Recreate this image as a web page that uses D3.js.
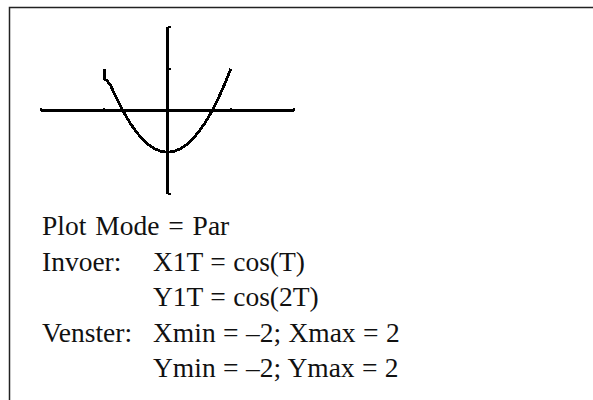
<!DOCTYPE html>
<html>
<head>
<meta charset="utf-8">
<script src="https://cdn.jsdelivr.net/npm/d3@7"></script>
<style>
  body { margin: 0; background: #fff; }
  text { font-family: "Liberation Serif", "Times New Roman", serif; }
</style>
</head>
<body>
<svg id="chart"></svg>
<script>
// window settings of the calculator
const xDomain = [-2, 2];
const yDomain = [-2, 2];
const xTicks = [-2, -1, 0, 1, 2];
const yTicks = [-2, -1, 0, 1, 2];

// points of the curve (x = cos T, y = cos 2T)
const curveX = [-1, -1, -0.96, -0.9, -0.8, -0.7, -0.6, -0.5, -0.4, -0.3, -0.2, -0.1, 0,
                0.1, 0.2, 0.3, 0.4, 0.5, 0.6, 0.7, 0.8, 0.9, 0.96, 1];
const curveY = [1, 0.76, 0.72, 0.6, 0.28, -0.02, -0.28, -0.5, -0.68, -0.82, -0.92, -0.98, -1,
                -0.98, -0.92, -0.82, -0.68, -0.5, -0.28, -0.02, 0.28, 0.62, 0.84, 1];

// text below the screen
const rowLabels = ["Plot Mode = Par", "Invoer:", "", "Venster:", ""];
const rowValues = ["", "X1T = cos(T)", "Y1T = cos(2T)",
                   "Xmin = \u20132; Xmax = 2", "Ymin = \u20132; Ymax = 2"];

const width = 593, height = 400;

const svg = d3.select("#chart")
    .attr("width", width)
    .attr("height", height);

// frame (open at right and bottom)
svg.append("path")
    .attr("d", `M9.5,${height} V7.5 H${width}`)
    .attr("fill", "none")
    .attr("stroke", "#222")
    .attr("stroke-width", 1.5);

const x = d3.scaleLinear().domain(xDomain).range([41, 294]);
const y = d3.scaleLinear().domain(yDomain).range([194, 27]);

const axes = svg.append("g")
    .attr("stroke", "#000")
    .attr("shape-rendering", "crispEdges");

// x axis
axes.append("line")
    .attr("x1", x(xDomain[0])).attr("x2", x(xDomain[1]))
    .attr("y1", y(0)).attr("y2", y(0))
    .attr("stroke-width", 2.5);
axes.selectAll(".xt")
    .data(xTicks.filter(d => d !== 0))
    .join("rect")
    .attr("class", "xt")
    .attr("x", d => x(d) - 1)
    .attr("y", y(0) - 3)
    .attr("width", 2)
    .attr("height", 3)
    .attr("stroke", "none")
    .attr("fill", "#000");

// y axis
axes.append("line")
    .attr("x1", x(0)).attr("x2", x(0))
    .attr("y1", y(yDomain[1])).attr("y2", y(yDomain[0]))
    .attr("stroke-width", 2.5);
axes.selectAll(".yt")
    .data(yTicks.filter(d => d !== 0))
    .join("rect")
    .attr("class", "yt")
    .attr("x", x(0))
    .attr("y", d => y(d) - 1)
    .attr("width", 3)
    .attr("height", 2)
    .attr("stroke", "none")
    .attr("fill", "#000");

// parametric curve, drawn without smoothing like the calculator screen
const pts = d3.zip(curveX, curveY);
svg.append("path")
    .datum(pts)
    .attr("fill", "none")
    .attr("stroke", "#000")
    .attr("stroke-width", 2.8)
    .attr("shape-rendering", "crispEdges")
    .attr("d", d3.line().x(d => x(d[0])).y(d => y(d[1])));

// text
const rows = svg.append("g")
    .attr("font-size", 27.5)
    .attr("fill", "#111");
const baseline = d3.scaleLinear().domain([0, rowLabels.length - 1]).range([235, 377]);

rows.selectAll(".lab")
    .data(rowLabels)
    .join("text")
    .attr("class", "lab")
    .attr("x", 42)
    .attr("y", (d, i) => baseline(i))
    .attr("word-spacing", (d, i) => i === 0 ? 2 : 0)
    .text(d => d);

rows.selectAll(".val")
    .data(rowValues)
    .join("text")
    .attr("class", "val")
    .attr("x", 153)
    .attr("y", (d, i) => baseline(i))
    .attr("word-spacing", 0.5)
    .text(d => d);
</script>
</body>
</html>
